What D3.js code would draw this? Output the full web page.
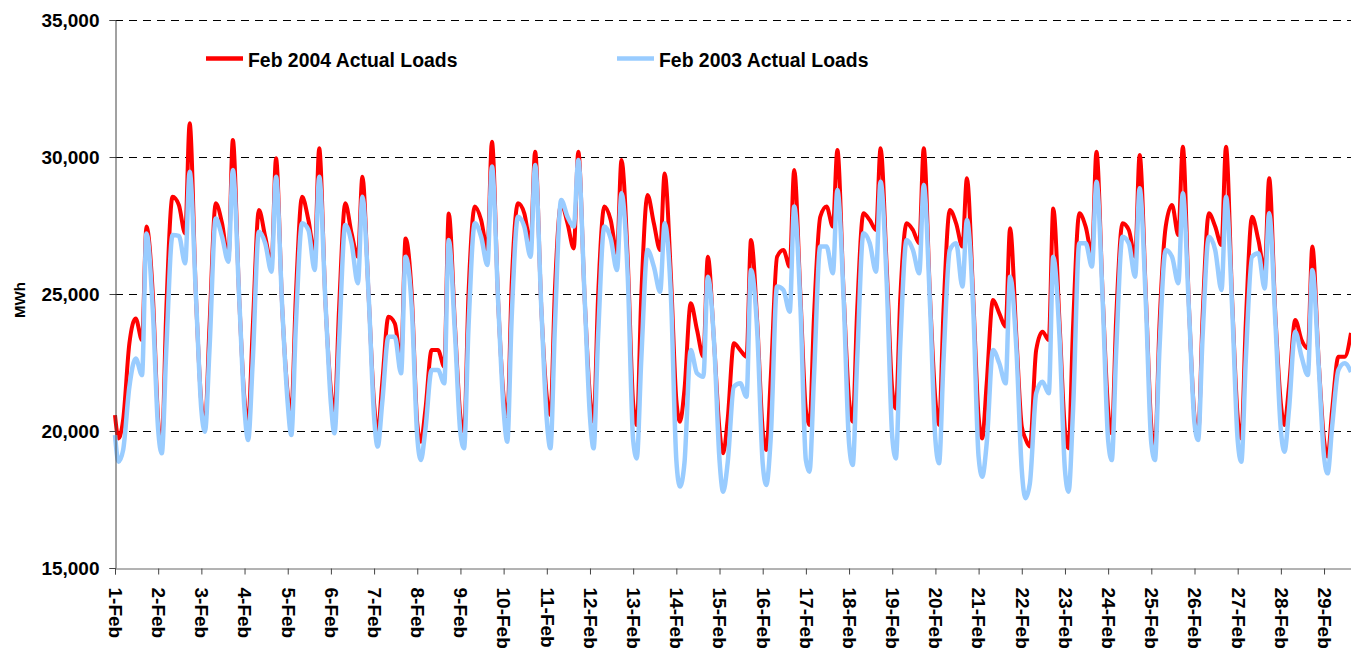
<!DOCTYPE html>
<html>
<head>
<meta charset="utf-8">
<script src="https://cdn.jsdelivr.net/npm/d3@7"></script>
<style>
  body { margin: 0; background: #fff; }
  svg { display: block; font-family: "Liberation Sans", Arial, sans-serif; }
</style>
</head>
<body>
<svg></svg>
<script>
const WIDTH = 1351;
const HEIGHT = 649;

// hour of day at which each daily value below was read
const HOURS = [0, 2, 4.5, 8, 11.5, 15, 17.5, 21];
const DAYS = 29;

// Feb 2004 actual loads (MWh), one row per day
const loads2004 = [
  [20580, 19730, 20400, 23200, 24110, 23320, 27460, 25000],
  [20400, 19430, 24415, 28550, 28250, 27210, 31230, 24900],
  [21010, 20220, 23800, 28310, 27580, 26240, 30620, 24900],
  [21130, 20280, 23685, 28065, 27090, 26120, 29950, 24415],
  [21375, 20705, 24900, 28550, 27700, 26485, 30315, 24660],
  [21500, 20645, 24415, 28310, 27215, 26360, 29280, 24900],
  [21010, 19915, 21740, 24170, 23930, 22590, 27030, 24900],
  [20280, 19610, 20770, 22955, 22955, 22350, 27940, 23800],
  [20520, 19975, 25025, 28190, 27700, 26605, 30560, 24660],
  [21250, 20400, 25390, 28310, 27945, 26850, 30195, 24415],
  [21250, 20585, 25145, 28310, 27580, 26665, 30195, 24900],
  [21250, 20340, 24900, 28190, 27700, 26485, 29890, 26240],
  [21010, 20220, 24900, 28610, 27580, 26605, 29400, 25630],
  [21130, 20340, 21500, 24660, 23685, 22710, 26360, 23200],
  [20040, 19185, 20400, 23200, 22955, 22710, 26970, 23930],
  [20040, 19305, 21980, 26360, 26605, 26000, 29525, 24900],
  [20770, 20220, 24170, 27820, 28190, 27460, 30255, 25025],
  [21130, 20340, 24415, 27945, 27700, 27335, 30315, 25875],
  [21500, 20825, 24900, 27580, 27335, 26850, 30315, 24900],
  [21130, 20220, 24415, 28065, 27580, 26730, 29220, 24900],
  [20520, 19730, 21740, 24780, 24295, 23810, 27400, 23440],
  [20160, 19730, 19430, 22955, 23625, 23320, 28125, 23930],
  [20040, 19370, 23810, 27945, 27460, 26485, 30195, 24900],
  [20770, 19915, 24170, 27580, 27335, 26360, 30075, 24900],
  [20160, 19305, 23810, 27460, 28250, 27150, 30375, 24415],
  [20520, 19855, 24170, 27945, 27460, 26790, 30375, 24660],
  [20520, 19730, 23930, 27820, 26970, 25875, 29220, 24170],
  [21010, 20220, 21620, 24050, 23320, 23015, 26730, 22590],
  [19670, 19065, 20770, 22710, 22710, 23580]
];

// Feb 2003 actual loads (MWh)
const loads2003 = [
  [19850, 18880, 19300, 21620, 22650, 22040, 27210, 24420],
  [20040, 19185, 22955, 27150, 27120, 26120, 29460, 24900],
  [20770, 19975, 22955, 27760, 27090, 26180, 29525, 24900],
  [20770, 19670, 22470, 27275, 26850, 25815, 29280, 24415],
  [21010, 19850, 23810, 27580, 27335, 25875, 29280, 24660],
  [21010, 19915, 23200, 27520, 26850, 25390, 28550, 24900],
  [20520, 19430, 21010, 23440, 23440, 22105, 26360, 24420],
  [19790, 18940, 20040, 22230, 22230, 21740, 26970, 23500],
  [19915, 19370, 23810, 27580, 27090, 26060, 29650, 24660],
  [20770, 19610, 24170, 27820, 27460, 26360, 29710, 24415],
  [20400, 19370, 23810, 28430, 27820, 27460, 29890, 24900],
  [20520, 19370, 23440, 27460, 27030, 25875, 28675, 25630],
  [19670, 19000, 22590, 26605, 26000, 25085, 27580, 24900],
  [18940, 17970, 18820, 22955, 22105, 21980, 25630, 23200],
  [18940, 17785, 18820, 21620, 21740, 21250, 25875, 23600],
  [18820, 18030, 19790, 25270, 25145, 24355, 28190, 24500],
  [18940, 18515, 21980, 26730, 26730, 25755, 28795, 24800],
  [19550, 18760, 22590, 27215, 26850, 25815, 29100, 25300],
  [19790, 19000, 23200, 26970, 26605, 25755, 28980, 24600],
  [19670, 18820, 22590, 26605, 26850, 25270, 27700, 24500],
  [19065, 18330, 19550, 22955, 22470, 21740, 25630, 23000],
  [18575, 17545, 18090, 21375, 21800, 21375, 26360, 23400],
  [18575, 17785, 20770, 26850, 26850, 26000, 29100, 24700],
  [19670, 18940, 22955, 27090, 26850, 25630, 28855, 24600],
  [19550, 18940, 22955, 26605, 26360, 25390, 28675, 24300],
  [20280, 19670, 23440, 27090, 26605, 25145, 28550, 24400],
  [19670, 18880, 22590, 26360, 26485, 25205, 27945, 23900],
  [20040, 19245, 20770, 23625, 22710, 22045, 25875, 22400],
  [19065, 18455, 20160, 22225, 22470, 22150]
];

const yTicks = [15000, 20000, 25000, 30000, 35000];
const gridValues = [20000, 25000, 30000, 35000];
const dayLabels = d3.range(DAYS).map(d => `${d + 1}-Feb`);

const legendItems = [
  {label: "Feb 2004 Actual Loads", color: "#ff0000", x: 206},
  {label: "Feb 2003 Actual Loads", color: "#99ccff", x: 617}
];

const LEFT = 115;
const TOP = 20;
const BOTTOM = 568;
const DAY_PX = 43.18;

var svg = d3.select("svg")
    .attr("width", WIDTH)
    .attr("height", HEIGHT);

var x = d3.scaleLinear()
    .domain([0, DAYS * 24])
    .range([LEFT, LEFT + DAYS * DAY_PX]);

var y = d3.scaleLinear()
    .domain([15000, 35000])
    .range([BOTTOM, TOP]);

function toPoints(rows) {
    let pts = [];
    rows.forEach((row, d) => {
        row.forEach((v, j) => pts.push([d * 24 + HOURS[j], v]));
    });
    return pts;
}

// dashed gridlines
svg.append("g")
    .selectAll("line")
    .data(gridValues)
    .join("line")
    .attr("x1", LEFT)
    .attr("x2", WIDTH)
    .attr("y1", d => Math.round(y(d)) + 0.5)
    .attr("y2", d => Math.round(y(d)) + 0.5)
    .attr("stroke", "#000")
    .attr("stroke-width", 1)
    .attr("stroke-dasharray", "8,6");

var lineGenerator = d3.line()
    .x(d => x(d[0]))
    .y(d => y(d[1]))
    .curve(d3.curveMonotoneX);

svg.append("path")
    .attr("d", lineGenerator(toPoints(loads2004)))
    .attr("fill", "none")
    .attr("stroke", legendItems[0].color)
    .attr("stroke-width", 4)
    .attr("stroke-linejoin", "round");

svg.append("path")
    .attr("d", lineGenerator(toPoints(loads2003)))
    .attr("fill", "none")
    .attr("stroke", legendItems[1].color)
    .attr("stroke-width", 4.5)
    .attr("stroke-linejoin", "round");

// y axis
var yAxis = svg.append("g")
    .attr("transform", `translate(${LEFT + 0.5},0)`)
    .call(d3.axisLeft(y)
        .tickValues(yTicks)
        .tickFormat(d3.format(","))
        .tickSize(6)
        .tickPadding(10));
yAxis.select(".domain").attr("stroke", "#444");
yAxis.selectAll(".tick line").attr("stroke", "#444");
yAxis.selectAll("text")
    .style("font-size", "19px")
    .style("font-weight", "bold")
    .attr("fill", "#000");

// x axis
var xAxis = svg.append("g")
    .attr("transform", `translate(0,${BOTTOM + 0.5})`)
    .call(d3.axisBottom(x)
        .tickValues(d3.range(DAYS).map(d => d * 24))
        .tickFormat((d, i) => dayLabels[i])
        .tickSizeOuter(0)
        .tickSize(6));
xAxis.select(".domain").attr("stroke", "#666");
xAxis.selectAll(".tick line").attr("stroke", "#444");
xAxis.selectAll("text")
    .attr("transform", "rotate(90)")
    .attr("x", 19)
    .attr("y", 0)
    .attr("dy", "0.35em")
    .attr("text-anchor", "start")
    .style("font-size", "19px")
    .style("font-weight", "bold")
    .attr("fill", "#000");

svg.append("text")
    .attr("transform", `translate(25,${(TOP + BOTTOM) / 2 + 6}) rotate(-90)`)
    .attr("text-anchor", "middle")
    .style("font-size", "15px")
    .style("font-weight", "bold")
    .text("MWh");

// legend
var legend = svg.append("g")
    .selectAll("g")
    .data(legendItems)
    .join("g")
    .attr("transform", d => `translate(${d.x},58.5)`);

legend.append("line")
    .attr("x1", 0)
    .attr("x2", 37)
    .attr("stroke", d => d.color)
    .attr("stroke-width", 4.5);

legend.append("text")
    .attr("x", 42)
    .attr("y", 8)
    .style("font-size", "19.4px")
    .style("font-weight", "bold")
    .text(d => d.label);
</script>
</body>
</html>
